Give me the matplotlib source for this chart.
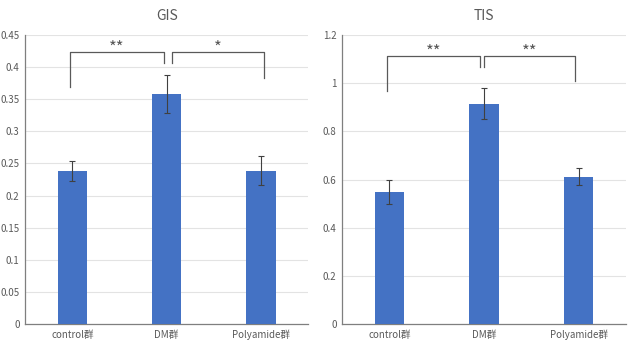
import matplotlib.pyplot as plt
import numpy as np

plt.rcParams['font.family'] = ['Noto Sans CJK SC', 'DejaVu Sans']

groups = ['control群', 'DM群', 'Polyamide群']
gis_mean = [0.238, 0.358, 0.239]
gis_err = [0.016, 0.029, 0.022]
tis_mean = [0.549, 0.915, 0.612]
tis_err = [0.050, 0.065, 0.036]

# brackets: (x0, x1, y_top, y_leg0, y_leg1, label)
gis_brackets = [(-0.02, 0.97, 0.424, 0.369, 0.406, '**'),
                (1.06, 2.03, 0.424, 0.406, 0.383, '*')]
tis_brackets = [(-0.03, 0.96, 1.113, 0.967, 1.066, '**'),
                (1.00, 1.96, 1.113, 1.066, 1.008, '**')]

txt = '#595959'
fig = plt.figure(figsize=(6.29, 3.5), dpi=100)

def panel(rect, title, means, errs, ylim, step, brackets, fmt):
    ax = fig.add_axes(rect)
    x = np.arange(len(groups))
    ax.bar(x, means, width=0.31, color='#4472C4', zorder=3)
    ax.errorbar(x, means, yerr=errs, fmt='none', ecolor='#404040',
                elinewidth=0.8, capsize=2, capthick=0.8, zorder=4)
    ax.set_xlim(-0.5, 2.5)
    ax.set_ylim(0, ylim)
    ticks = np.arange(0, ylim + step / 2, step)
    ax.set_yticks(ticks)
    ax.set_yticklabels([fmt(t) for t in ticks])
    ax.set_xticks(x)
    ax.set_xticklabels(groups)
    ax.grid(axis='y', color='#E3E3E3', linewidth=0.8, zorder=0)
    for s in ['top', 'right']:
        ax.spines[s].set_visible(False)
    for s in ['left', 'bottom']:
        ax.spines[s].set_color('#7F7F7F')
        ax.spines[s].set_linewidth(0.9)
    ax.tick_params(axis='both', length=0, labelsize=7, colors=txt, pad=4)
    ax.set_title(title, fontsize=10, color=txt, pad=11)
    for x0, x1, yt, y0, y1, lab in brackets:
        ax.plot([x0, x0, x1, x1], [y0, yt, yt, y1], color='#595959',
                linewidth=0.9, zorder=5)
        ax.text((x0 + x1) / 2, yt - ylim * 0.016, lab, ha='center',
                va='bottom', fontsize=12, color=txt)
    return ax

def fmt_gis(t):
    return '0' if t == 0 else ('%.2f' % t).rstrip('0')

def fmt_tis(t):
    return '0' if t == 0 else ('%.1f' % t).rstrip('0').rstrip('.')

panel([0.040, 0.074, 0.450, 0.826], 'GIS', gis_mean, gis_err, 0.45, 0.05,
      gis_brackets, fmt_gis)
panel([0.544, 0.074, 0.451, 0.826], 'TIS', tis_mean, tis_err, 1.2, 0.2,
      tis_brackets, fmt_tis)

fig.savefig('out.png', dpi=100)
